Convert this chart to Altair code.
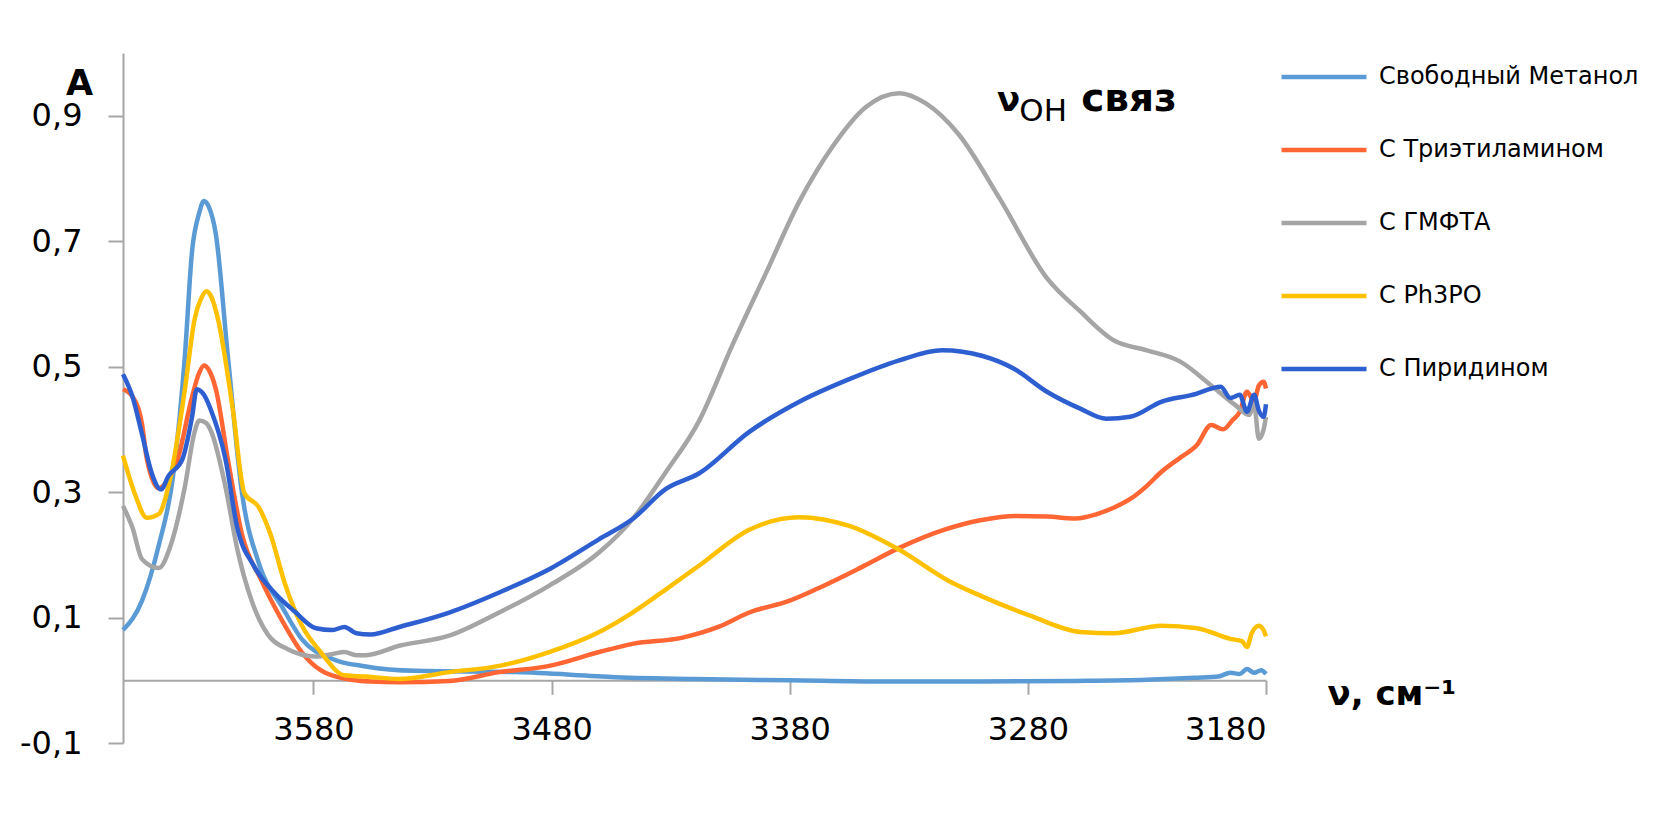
import altair as alt
import pandas as pd

SERIES = ["Свободный Метанол", "С Триэтиламином", "С ГМФТА", "С Ph3PO", "С Пиридином"]
COLORS = ["#5b9bd5", "#ff6633", "#a5a5a5", "#ffc000", "#2e5fd1"]

X_TICKS = [3580, 3480, 3380, 3280, 3180]
Y_TICKS = [-0.1, 0.1, 0.3, 0.5, 0.7, 0.9]

# Свободный Метанол
lb_x = [3660, 3652, 3645, 3639, 3634, 3631, 3628, 3626, 3624, 3621, 3616, 3610, 3603, 3593, 3585,
        3572, 3558, 3537, 3495, 3453, 3420, 3380, 3340, 3300, 3260, 3230, 3210, 3200, 3195, 3191,
        3188, 3185, 3182, 3180]
lb_y = [0.080, 0.127, 0.215, 0.325, 0.518, 0.684, 0.745, 0.764, 0.755, 0.711, 0.518, 0.298, 0.187,
        0.116, 0.066, 0.034, 0.022, 0.015, 0.013, 0.005, 0.002, 0.000, -0.002, -0.002, -0.001,
        0.001, 0.004, 0.006, 0.012, 0.010, 0.018, 0.012, 0.016, 0.010]

# С Триэтиламином
or_x = [3660, 3656, 3652, 3650, 3645, 3641, 3637, 3631, 3628, 3626, 3624, 3621, 3616, 3610, 3602,
        3593, 3585, 3577, 3566, 3556, 3544, 3523, 3502, 3481, 3460, 3446, 3425, 3410, 3397, 3380,
        3369, 3350, 3334, 3315, 3300, 3285, 3272, 3260, 3251, 3244, 3237, 3230, 3224, 3216, 3209,
        3203, 3198, 3194, 3191, 3188, 3185, 3183, 3181, 3180]
or_y = [0.464, 0.452, 0.408, 0.353, 0.306, 0.320, 0.353, 0.452, 0.490, 0.502, 0.495, 0.464, 0.353,
        0.232, 0.160, 0.094, 0.045, 0.016, 0.002, -0.002, -0.003, -0.001, 0.013, 0.023, 0.045,
        0.058, 0.068, 0.085, 0.108, 0.127, 0.145, 0.180, 0.211, 0.240, 0.255, 0.262, 0.261, 0.258,
        0.265, 0.275, 0.289, 0.310, 0.332, 0.355, 0.375, 0.407, 0.400, 0.415, 0.428, 0.460, 0.445,
        0.470, 0.476, 0.465]

# С ГМФТА
gr_x = [3660, 3656, 3652, 3645, 3640, 3634, 3630, 3628, 3625, 3623, 3617, 3612, 3606, 3599, 3591,
        3579, 3572, 3567, 3562, 3558, 3544, 3523, 3502, 3481, 3460, 3446, 3432, 3418, 3404, 3390,
        3376, 3362, 3348, 3334, 3323, 3309, 3292, 3272, 3258, 3244, 3230, 3216, 3203, 3193, 3187,
        3185, 3183, 3181, 3180]
gr_y = [0.278, 0.243, 0.193, 0.179, 0.215, 0.309, 0.395, 0.414, 0.410, 0.397, 0.309, 0.209, 0.127,
        0.072, 0.050, 0.038, 0.042, 0.045, 0.040, 0.040, 0.055, 0.071, 0.108, 0.151, 0.204, 0.257,
        0.332, 0.414, 0.535, 0.649, 0.763, 0.851, 0.914, 0.936, 0.920, 0.870, 0.769, 0.641, 0.588,
        0.542, 0.526, 0.508, 0.470, 0.439, 0.423, 0.440, 0.385, 0.400, 0.420]

# С Ph3PO
yl_x = [3660, 3655, 3650, 3645, 3640, 3634, 3630, 3627, 3625, 3623, 3620, 3614, 3609, 3603, 3598,
        3592, 3585, 3577, 3567, 3558, 3544, 3523, 3502, 3481, 3460, 3446, 3432, 3418, 3397, 3376,
        3355, 3334, 3313, 3300, 3279, 3258, 3244, 3224, 3209, 3195, 3190, 3188, 3186, 3183, 3181,
        3180]
yl_y = [0.358, 0.297, 0.259, 0.265, 0.325, 0.464, 0.574, 0.610, 0.620, 0.612, 0.574, 0.435, 0.298,
        0.276, 0.232, 0.154, 0.088, 0.045, 0.008, 0.006, 0.002, 0.013, 0.023, 0.045, 0.077, 0.108,
        0.145, 0.183, 0.240, 0.260, 0.246, 0.208, 0.158, 0.135, 0.103, 0.077, 0.075, 0.087, 0.083,
        0.066, 0.062, 0.053, 0.075, 0.087, 0.080, 0.070]

# С Пиридином
bl_x = [3660, 3656, 3652, 3648, 3644, 3641, 3635, 3631, 3629, 3626, 3623, 3617, 3612, 3605, 3596,
        3588, 3579, 3572, 3567, 3562, 3556, 3544, 3523, 3502, 3481, 3460, 3446, 3432, 3418, 3397,
        3376, 3355, 3334, 3316, 3299, 3286, 3272, 3258, 3247, 3237, 3224, 3209, 3203, 3199, 3195,
        3191, 3188, 3185, 3183, 3181, 3180]
bl_y = [0.488, 0.452, 0.392, 0.331, 0.304, 0.325, 0.353, 0.420, 0.464, 0.455, 0.430, 0.353, 0.243,
        0.182, 0.138, 0.110, 0.083, 0.080, 0.085, 0.075, 0.073, 0.085, 0.108, 0.140, 0.177, 0.225,
        0.257, 0.305, 0.330, 0.396, 0.444, 0.480, 0.510, 0.526, 0.517, 0.497, 0.460, 0.433, 0.417,
        0.420, 0.444, 0.457, 0.465, 0.468, 0.450, 0.455, 0.428, 0.455, 0.430, 0.420, 0.440]

rows = []
for name, xs, ys in zip(SERIES, [lb_x, or_x, gr_x, yl_x, bl_x], [lb_y, or_y, gr_y, yl_y, bl_y]):
    for i, (a, b) in enumerate(zip(xs, ys)):
        rows.append({"series": name, "nu": a, "A": b, "i": i})
df = pd.DataFrame(rows)

x_scale = alt.Scale(domain=[3180, 3660], reverse=True, nice=False, zero=False)
y_scale = alt.Scale(domain=[-0.1, 1.0], nice=False, zero=False)
AXIS_GRAY = "#a6a6a6"

lines = alt.Chart(df).mark_line(strokeWidth=4.5, interpolate="monotone").encode(
    x=alt.X("nu:Q", scale=x_scale, axis=alt.Axis(
        values=X_TICKS, format="d", grid=False, offset=-62.7,
        domainColor=AXIS_GRAY, domainWidth=2, tickColor=AXIS_GRAY, tickWidth=2, tickSize=14,
        labelFont="DejaVu Sans", labelFontSize=32, labelColor="black", labelPadding=20,
        title="ν, см⁻¹", titleFont="DejaVu Sans", titleFontWeight="bold", titleFontSize=34,
        titleColor="black", titleAlign="left", titleBaseline="alphabetic", titleAngle=0,
        titleX=1204, titleY=24)),
    y=alt.Y("A:Q", scale=y_scale, axis=alt.Axis(
        values=Y_TICKS,
        labelExpr="replace(replace(format(datum.value, '.1f'), '.', ','), '\u2212', '-')",
        grid=False,
        domainColor=AXIS_GRAY, domainWidth=2, tickColor=AXIS_GRAY, tickWidth=2, tickSize=15,
        labelFont="DejaVu Sans", labelFontSize=32, labelColor="black", labelPadding=26,
        title="A", titleFont="DejaVu Sans", titleFontWeight="bold", titleFontSize=35,
        titleColor="black", titleAngle=0, titleAlign="center", titleBaseline="alphabetic",
        titleX=-44, titleY=41)),
    color=alt.Color("series:N", scale=alt.Scale(domain=SERIES, range=COLORS), legend=alt.Legend(
        orient="none", legendX=1158, legendY=12, title=None, padding=0,
        symbolType="M-8.5,0H8.5", symbolSize=100, symbolStrokeWidth=4.5, symbolOffset=31,
        labelOffset=43, labelFont="DejaVu Sans", labelFontSize=24, labelColor="black",
        labelLimit=400, rowPadding=49)),
    order="i:Q",
)

ann_nu = alt.Chart(pd.DataFrame({"nu": [3293], "A": [0.908], "t": ["ν"]})).mark_text(
    font="DejaVu Sans", fontWeight="bold", fontSize=34, align="left", baseline="alphabetic",
    color="black").encode(x=alt.X("nu:Q", scale=x_scale), y=alt.Y("A:Q", scale=y_scale), text="t:N")
ann_oh = alt.Chart(pd.DataFrame({"nu": [3283.6], "A": [0.892], "t": ["OH"]})).mark_text(
    font="DejaVu Sans", fontSize=31, align="left", baseline="alphabetic",
    color="black").encode(x=alt.X("nu:Q", scale=x_scale), y=alt.Y("A:Q", scale=y_scale), text="t:N")
ann_sv = alt.Chart(pd.DataFrame({"nu": [3257.6], "A": [0.908], "t": ["связ"]})).mark_text(
    font="DejaVu Sans", fontWeight="bold", fontSize=39, align="left", baseline="alphabetic",
    color="black").encode(x=alt.X("nu:Q", scale=x_scale), y=alt.Y("A:Q", scale=y_scale), text="t:N")

chart = alt.layer(lines, ann_nu, ann_oh, ann_sv).properties(
    width=1143, height=690,
    padding={"left": 115, "top": 45, "right": 379, "bottom": 71},
    autosize=alt.AutoSizeParams(type="none"),
    background="white",
).configure_view(stroke=None)

chart.save("out.html", embed_options={"renderer": "svg", "actions": False})
